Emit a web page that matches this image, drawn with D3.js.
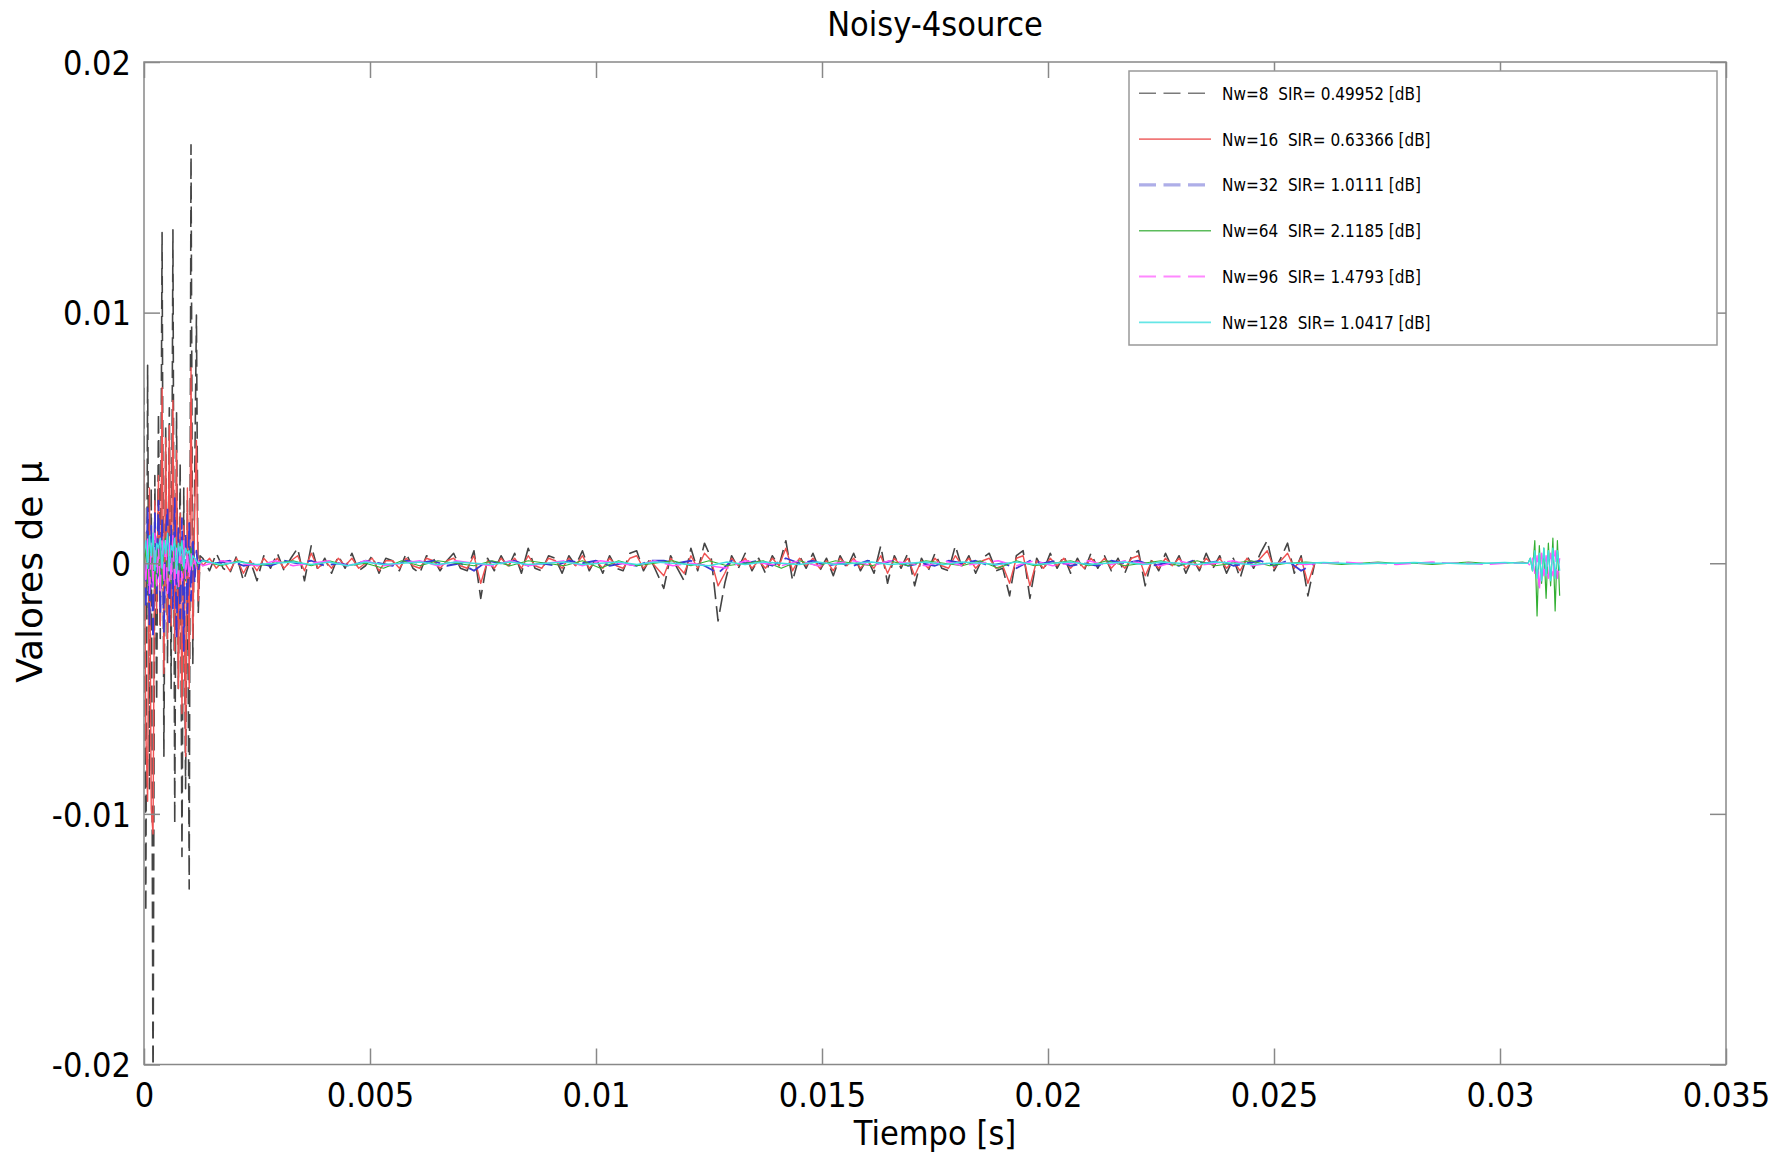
<!DOCTYPE html>
<html><head><meta charset="utf-8">
<script src="https://cdn.jsdelivr.net/npm/d3@7"></script>
<style>
html,body{margin:0;padding:0;background:#fff;}
svg{display:block;font-family:"DejaVu Sans",sans-serif;}
</style></head><body>
<svg id="chart" width="1790" height="1157"></svg>
<script>
// ---------------- DATA ----------------
const chartTitle = "Noisy-4source";
const xLabel = "Tiempo [s]";
const yLabel = "Valores de μ";
const xTickVals = [0, 0.005, 0.01, 0.015, 0.02, 0.025, 0.03, 0.035];
const xTickLabels = ["0", "0.005", "0.01", "0.015", "0.02", "0.025", "0.03", "0.035"];
const yTickVals = [-0.02, -0.01, 0, 0.01, 0.02];
const yTickLabels = ["-0.02", "-0.01", "0", "0.01", "0.02"];
const seriesNames = [
  "Nw=8  SIR= 0.49952 [dB]",
  "Nw=16  SIR= 0.63366 [dB]",
  "Nw=32  SIR= 1.0111 [dB]",
  "Nw=64  SIR= 2.1185 [dB]",
  "Nw=96  SIR= 1.4793 [dB]",
  "Nw=128  SIR= 1.0417 [dB]"
];

// values are in units of 1e-4
const UNIT = 1e-4;
// sampling grids (start time, step) of each segment
const burstStart = 0, burstStep = 4e-5;
const noiseStart = 0.0013, noiseStep = 1.5e-4;
const blueNoiseStep = 3e-4;
const slowStep = 4e-4;
const tailStart = 0.03062, tailStep = 5e-5;

const nw8Burst = [70, -139, 79, -90, 30, -215, 35, -55, 60, -30, 132, -77, 55, -40, 62, -50, 133, -104, 60, -50, 40, -117, 30, -90, 25, -130, 167, -40, 30, 99, -20, 3];
const nw8Noise = [2, -3, 4, -2, -4, 3, -7, 1, -7, 3,
  -2, 4, -3, 2, 6, -7, 7, -3, 2, -4,
  3, -2, 4, -3, -1, 3, -4, 2, 1, -3,
  4, -2, -4, 3, 2, -3, 1, 4, -2, -3,
  5, -14, 2, -3, 3, -2, 4, -4, 6, -2,
  -3, 3, 2, -4, 3, -1, 5, -3, 2, -4,
  3, -2, -3, 4, 5, -3, 2, -4, -10, 3,
  -2, -7, 6, -3, 8, 2, -23, -8, 3, -2,
  4, -3, 2, -4, 3, -1, 9, -7, 3, -2,
  4, -3, 2, -5, 3, -2, 4, -3, 2, -4,
  7, -8, 3, -2, 4, -9, 2, -3, 4, -2,
  -3, 7, -2, 3, -4, 2, 4, -3, -2, -13,
  3, 5, -14, 2, -3, 4, -2, 3, -4, 2,
  -3, 4, -2, 3, -3, 2, -4, 3, 5, -9,
  2, -3, 4, -2, 3, -4, 2, -3, 4, -2,
  3, -4, 2, -6, 3, -2, 4, 9, -3, 2,
  8, -4, 3, -13, 0];

const nw16Burst = [41, -67, -95, 30, -98, -108, 25, -20, 35, -25, 70, -44, 50, -30, 55, -25, 65, -35, 45, -50, 20, -60, 15, -77, 30, -50, 78, -30, 20, 49, -15, 2];
const nw16Noise = [-1, 2, -2, 1, -3, 2, -4, 1, -3, 2,
  -1, 2, -2, 1, 3, -3, 4, -2, 1, -2,
  2, -1, 2, -2, 0, 2, -3, 1, 1, -2,
  2, -1, -2, 2, 1, -2, 1, 2, -1, -2,
  3, -8, 1, -2, 2, -1, 2, -2, 3, -1,
  -2, 2, 1, -2, 2, -1, 3, -2, 1, -2,
  2, -1, -2, 2, 3, -2, 1, -2, -5, 2,
  -1, -4, 3, -2, 4, 1, -9, -4, 2, -1,
  2, -2, 1, -2, 2, -1, 6, -3, 2, -1,
  2, -2, 1, -3, 2, -1, 2, -2, 1, -2,
  3, -4, 2, -1, 2, -5, 1, -2, 2, -1,
  -2, 3, -1, 2, -2, 1, 2, -2, -1, -8,
  2, 3, -9, 1, -2, 2, -1, 2, -2, 1,
  -2, 2, -1, 2, -2, 1, -2, 2, 3, -5,
  1, -2, 2, -1, 2, -2, 1, -2, 2, -1,
  2, -2, 1, -3, 2, -1, 2, 5, -2, 1,
  4, -2, 2, -8, 0];

const nw32Burst = [0, -18, 22, -25, 15, -30, 20, -12, 25, -20, 18, -28, 12, 22, -25, 15, -18, 26, -30, 14, -22, 18, -35, 12, -20, 16, -15, 10, -8, 5, -3, 1];
const nw32Noise = [1, 0, 1, -1, 0, -1, 1, 0, 1, -1,
  0, -1, 1, 0, -1, 1, 0, 1, -1, 0,
  -3, 1, 0, 1, -1, 0, -1, 1, 0, 1,
  -1, 0, -1, 1, 1, 0, 1, -1, -4, 1,
  0, 1, -1, 2, 0, 1, -1, 0, -1, 1,
  0, 1, -1, 0, -1, 1, 0, 1, -1, 0,
  -2, 1, 0, 1, -1, 0, -1, 1, 0, 1,
  -1, 0, -1, 1, 0, 1, -1, 0, 1, -1,
  1, -3, 0];

const nw64Burst = [0, 6, -8, 10, -6, 9, -10, 7, -5, 8, -9, 6, 10, -7, 5, -8, 9, -6, 7, -10, 8, -5, 6, -7, 5, -4, 6, -3, 2, -2, 1, 0];
const nw64Mid = [1, -1, 1, -1, 0, 1, -1, 1, -1, 0,
  -2, 1, -1, 1, 0, -1, 1, -1, 1, 0,
  -1, 1, -2, 1, -1, 0, 1, -1, 1, -1,
  0, 1, -2, 1, -1, 1, 0, -1, 1, -1,
  1, 0, -1, 1, -2, 1, -1, 0, 1, -1,
  1, -1, 0, 1, -1, 1, -1, 0, 1, -1,
  0, 0.5, 0, -0.5, 0, 0.5, 0, 0, -0.5, 0,
  0.5, 0, 0, 0.5];
const nw64Tail = [0, 2, -3, 9, -21, 7, -8, 6, -14, 8, -9, 10, -19, 9, -13];

const nw96Burst = [0, -8, 10, -12, 8, -10, 12, -9, 7, -11, 9, -8, 10, -12, 8, -7, 11, -9, 6, -10, 8, -7, 9, -6, 5, -6, 4, -3, 2, -2, 1, 0];
const nw96Mid = [-1, 1, 0, -1, 1, -1, 0, 1, -1, 1,
  -1, 0, 1, -1, 1, 0, -1, 1, -1, 0,
  1, -1, 1, 0, -1, 1, -1, 0, -1, -2,
  1, 0, -1, 1, -1, 0, 1, -1, 1, 0,
  -1, 1, -1, 0, 1, -1, 1, -1, 0, 1,
  -1, 1, 0, -1, 1, -1, 0, 1, -1, 0,
  0, -0.5, 0, 0.5, 0, 0, -0.5, 0, 0.5, 0,
  0, -0.5, 0, 0];
const nw96Tail = [0, -1, 2, -4, 3, -11, 4, -5, 3, -6, 4, -5, 5, -6, 2];

const nw128Burst = [4, 9, -2, 11, 3, 12, -3, 8, 6, 10, -2, 9, 4, 12, -3, 7, 5, 10, -4, 8, 3, 9, -2, 6, 4, 5, -1, 3, 2, 1, 0, 0];
const nw128Mid = [1, -0.5, 0.5, -0.5, 0, 0.5, -0.5, 0.5, -1, 0.5,
  -0.5, 0, 0.5, -0.5, 0.5, 0, -0.5, 0.5, -0.5, 0,
  0.5, -0.5, 0, 0.5, -0.5, 0.5, 0, -0.5, -1, 0.5,
  -0.5, 0.5, 0, -0.5, 0.5, -0.5, 0, 0.5, -0.5, 0,
  0.5, -0.5, 0.5, 0, -0.5, 0.5, -0.5, 0, 0.5, -0.5,
  0, 0.5, -0.5, 0.5, 0, -0.5, 0.5, 0, -0.5, 0,
  0, 0, 0.3, 0, -0.3, 0, 0, 0.3, 0, 0,
  -0.3, 0, 0.3, 0];
const nw128Tail = [0, 2, -3, 5, -6, 4, -7, 6, -5, 5, -7, 6, -6, 5, -3];

// ---------------- BUILD ----------------
function build(segs) {
  const out = [];
  segs.forEach(([t0, dt, vals]) => vals.forEach((v, i) => out.push({t: t0 + i * dt, v: v * UNIT})));
  return out;
}
const seriesData = [
  build([[burstStart, burstStep, nw8Burst], [noiseStart, noiseStep, nw8Noise]]),
  build([[burstStart, burstStep, nw16Burst], [noiseStart, noiseStep, nw16Noise]]),
  build([[burstStart, burstStep, nw32Burst], [noiseStart, blueNoiseStep, nw32Noise]]),
  build([[burstStart, burstStep, nw64Burst], [noiseStart, slowStep, nw64Mid], [tailStart, tailStep, nw64Tail]]),
  build([[burstStart, burstStep, nw96Burst], [noiseStart, slowStep, nw96Mid], [tailStart, tailStep, nw96Tail]]),
  build([[burstStart, burstStep, nw128Burst], [noiseStart, slowStep, nw128Mid], [tailStart, tailStep, nw128Tail]])
];

// styles
const lineStyles = [
  {color: "#444444", width: 1.6, dash: "17,7"},
  {color: "#ee5050", width: 1.4, dash: null},
  {color: "#3a3ad2", width: 1.8, dash: "17,7"},
  {color: "#33b033", width: 1.2, dash: null},
  {color: "#ff55ff", width: 1.4, dash: "17,7"},
  {color: "#3fe0e0", width: 1.4, dash: null}
];
const legendStyles = [
  {color: "#7a7a7a", width: 1.6, dash: "17,7.5", len: 66},
  {color: "#f07878", width: 1.8, dash: null, len: 72},
  {color: "#aeaee8", width: 3.2, dash: "17,7.5", len: 66},
  {color: "#5cbc5c", width: 1.6, dash: null, len: 72},
  {color: "#ff88ff", width: 1.8, dash: "17,7.5", len: 66},
  {color: "#66e6e6", width: 1.8, dash: null, len: 72}
];

const L = 144, R = 1726, T = 62, B = 1064.5;
const svg = d3.select("#chart");
const x = d3.scaleLinear().domain([0, 0.035]).range([L, R]);
const y = d3.scaleLinear().domain([-0.02, 0.02]).range([B, T]);

svg.append("rect").attr("width", 1790).attr("height", 1157).attr("fill", "#fff");

svg.append("defs").append("clipPath").attr("id", "clip")
  .append("rect").attr("x", L).attr("y", T).attr("width", R - L).attr("height", B - T);

const line = d3.line().x(d => x(d.t)).y(d => y(d.v));
const plot = svg.append("g").attr("clip-path", "url(#clip)");
seriesData.forEach((data, i) => {
  const s = lineStyles[i];
  plot.append("path").datum(data)
    .attr("d", line)
    .attr("fill", "none")
    .attr("stroke", s.color)
    .attr("stroke-width", s.width)
    .attr("stroke-dasharray", s.dash)
    .attr("stroke-linejoin", "round");
});

// frame
svg.append("rect").attr("x", L).attr("y", T).attr("width", R - L).attr("height", B - T)
  .attr("fill", "none").attr("stroke", "#888").attr("stroke-width", 1.5);

function styleAxis(g) {
  g.select(".domain").remove();
  g.selectAll(".tick line").attr("stroke", "#888").attr("stroke-width", 1.5);
  g.attr("font-family", '"DejaVu Sans", sans-serif').attr("font-size", 34);
}

svg.append("g").attr("transform", `translate(0,${B})`)
  .call(d3.axisBottom(x).tickValues(xTickVals).tickFormat((d, i) => xTickLabels[i]).tickSizeInner(-16).tickSizeOuter(0))
  .call(styleAxis)
  .call(g => g.selectAll(".tick text").attr("y", 42.5).attr("dy", null).attr("fill", "#000").attr("transform", "scale(0.9,1)"));

svg.append("g").attr("transform", `translate(0,${T})`)
  .call(d3.axisTop(x).tickValues(xTickVals).tickFormat(() => "").tickSizeInner(-16).tickSizeOuter(0))
  .call(styleAxis);

svg.append("g").attr("transform", `translate(${L},0)`)
  .call(d3.axisLeft(y).tickValues(yTickVals).tickFormat((d, i) => yTickLabels[i]).tickSizeInner(-16).tickSizeOuter(0))
  .call(styleAxis)
  .call(g => g.selectAll(".tick text").attr("x", -13 / 0.9).attr("dy", "0.36em").attr("fill", "#000").attr("transform", "scale(0.9,1)"));

svg.append("g").attr("transform", `translate(${R},0)`)
  .call(d3.axisRight(y).tickValues(yTickVals).tickFormat(() => "").tickSizeInner(-16).tickSizeOuter(0))
  .call(styleAxis);

// titles
svg.append("text").attr("transform", `translate(${(L + R) / 2},35.5) scale(0.9,1)`)
  .attr("text-anchor", "middle").attr("font-size", 34).attr("fill", "#000").text(chartTitle);
svg.append("text").attr("transform", `translate(${(L + R) / 2},1145) scale(0.9,1)`)
  .attr("text-anchor", "middle").attr("font-size", 34).attr("fill", "#000").text(xLabel);
svg.append("text").attr("transform", `translate(42,572) rotate(-90)`)
  .attr("text-anchor", "middle").attr("font-size", 36).attr("fill", "#000").text(yLabel);

// legend
const lg = svg.append("g");
lg.append("rect").attr("x", 1129).attr("y", 71).attr("width", 588).attr("height", 274)
  .attr("fill", "#fff").attr("stroke", "#999").attr("stroke-width", 1.5);
seriesNames.forEach((name, i) => {
  const ry = 93.3 + i * 45.8;
  const s = legendStyles[i];
  lg.append("line").attr("x1", 1139).attr("x2", 1139 + s.len).attr("y1", ry).attr("y2", ry)
    .attr("stroke", s.color).attr("stroke-width", s.width).attr("stroke-dasharray", s.dash);
  lg.append("text").attr("transform", `translate(1222,${ry + 6.5}) scale(0.85,1)`)
    .attr("font-size", 18).attr("fill", "#000").style("white-space", "pre").text(name);
});
</script>
</body></html>
